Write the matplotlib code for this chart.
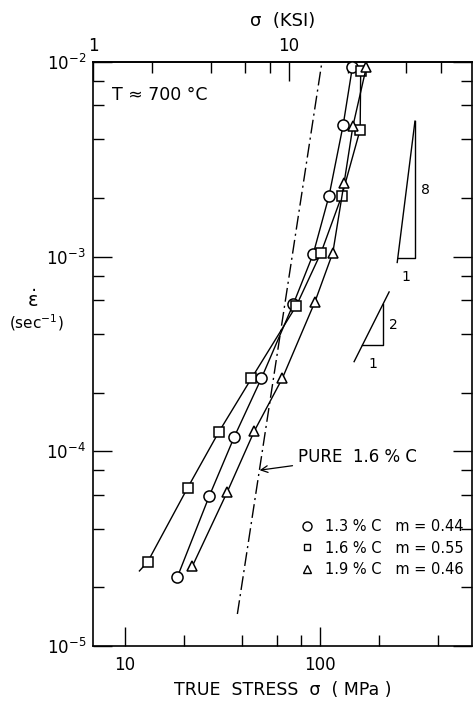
import matplotlib.pyplot as plt
from matplotlib.lines import Line2D
from matplotlib.ticker import FixedLocator, NullFormatter

plt.rcParams['font.family'] = ['DejaVu Sans']
plt.rcParams['mathtext.default'] = 'regular'

MPA_PER_KSI = 6.895

# strain rate (1/s) vs true stress (MPa) at T = 700 C
stress_13 = [18.6, 27.1, 36.4, 50.0, 72.8, 92.0, 111.0, 131.0, 146.0]
rate_13 = [2.26e-5, 5.9e-5, 1.19e-4, 2.37e-4, 5.7e-4, 1.03e-3, 2.06e-3, 4.75e-3, 9.4e-3]

stress_16 = [11.9, 13.1, 21.0, 30.2, 44.5, 75.5, 101.0, 129.0, 160.0, 161.0]
rate_16 = [2.43e-5, 2.7e-5, 6.5e-5, 1.25e-4, 2.37e-4, 5.6e-4, 1.05e-3, 2.06e-3, 4.5e-3, 9.0e-3]

stress_19 = [22.2, 33.5, 46.0, 64.0, 94.0, 116.0, 132.5, 147.0, 172.0]
rate_19 = [2.57e-5, 6.2e-5, 1.27e-4, 2.37e-4, 5.87e-4, 1.05e-3, 2.4e-3, 4.7e-3, 9.4e-3]

# pure 1.6%C line
pure_stress = [37.7, 102.0]
pure_rate = [1.46e-5, 1.0e-2]

labels = ['1.3 % C   m = 0.44', '1.6 % C   m = 0.55', '1.9 % C   m = 0.46']

fig = plt.figure(figsize=(4.74, 7.04), dpi=100)
ax = fig.add_axes([0.1962, 0.0824, 0.7996, 0.8295])
ax.set_xscale('log')
ax.set_yscale('log')
ax.set_xlim(6.89, 597)
ax.set_ylim(1e-5, 1e-2)

lw = 1.0
mk = dict(color='black', lw=lw, mfc='white', mec='black', mew=1.1, zorder=3)
ax.plot(stress_13, rate_13, marker='o', ms=8, **mk)
ax.plot(stress_16[:2], rate_16[:2], color='black', lw=lw)
ax.plot(stress_16[1:], rate_16[1:], marker='s', ms=6.5, **mk)
ax.plot(stress_19, rate_19, marker='^', ms=7.5, **mk)

ax.plot(pure_stress, pure_rate, color='black', lw=1.0,
        linestyle=(0, (10, 3, 1.5, 3)))
ax.annotate('PURE  1.6 % C', xy=(49, 8e-5), xytext=(0.541, 0.324),
            textcoords='axes fraction', fontsize=12, va='center', ha='left',
            arrowprops=dict(arrowstyle='->', lw=0.9, color='black',
                            shrinkA=2, shrinkB=0))

# slope triangles, m = 1/2 and 1/8
for slope, s0, s1, r0, ext in [(2, 164.0, 209.0, 3.5e-4, (149.0, 225.0)),
                               (8, 249.0, 305.0, 9.8e-4, (247.5, 305.0))]:
    r1 = r0 * (s1 / s0) ** slope
    ax.plot([ext[0], ext[1]],
            [r0 * (ext[0] / s0) ** slope, r0 * (ext[1] / s0) ** slope],
            color='black', lw=lw)
    ax.plot([s0, s1, s1], [r0, r0, r1], color='black', lw=lw)
    ax.text(s1 * 1.07, (r0 * r1) ** 0.5, str(slope), fontsize=10,
            ha='left', va='center')
    ax.text((s0 * s1) ** 0.5, r0 / 1.15, '1', fontsize=10,
            ha='center', va='top')

ax.text(0.05, 0.943, 'T ≈ 700 °C', transform=ax.transAxes, fontsize=12.5,
        va='center', ha='left')

handles = [
    Line2D([], [], ls='none', marker='o', ms=6.5, mfc='white', mec='black', mew=1.0),
    Line2D([], [], ls='none', marker='s', ms=5, mfc='white', mec='black', mew=1.0),
    Line2D([], [], ls='none', marker='^', ms=6, mfc='white', mec='black', mew=1.0),
]
ax.legend(handles, labels, loc='upper left', bbox_to_anchor=(0.546, 0.2175),
          frameon=False, fontsize=10.5, handlelength=1.0, handletextpad=0.7,
          labelspacing=0.45, borderpad=0, borderaxespad=0)

# ticks
ax.xaxis.set_major_locator(FixedLocator([10, 100]))
ax.set_xticklabels(['10', '100'])
ax.xaxis.set_minor_locator(FixedLocator([20, 40, 60, 80, 200, 400]))
ax.xaxis.set_minor_formatter(NullFormatter())
ax.yaxis.set_major_locator(FixedLocator([1e-5, 1e-4, 1e-3, 1e-2]))
ax.set_yticklabels(['$10^{-5}$', '$10^{-4}$', '$10^{-3}$', '$10^{-2}$'])
minor_y = [m * 10.0 ** e for e in (-5, -4, -3) for m in (2, 4, 6, 8)]
ax.yaxis.set_minor_locator(FixedLocator(minor_y))
ax.yaxis.set_minor_formatter(NullFormatter())
ax.tick_params(which='both', direction='in', right=True, top=False,
               width=1.0, labelsize=12)
ax.tick_params(which='major', length=14)
ax.tick_params(which='minor', length=8)
ax.tick_params(axis='x', pad=7)
ax.tick_params(axis='y', pad=5)
for sp in ax.spines.values():
    sp.set_linewidth(1.2)

sec = ax.secondary_xaxis('top', functions=(lambda x: x / MPA_PER_KSI,
                                           lambda x: x * MPA_PER_KSI))
sec.xaxis.set_major_locator(FixedLocator([1, 10]))
sec.set_xticklabels(['1', '10'])
sec.xaxis.set_minor_locator(FixedLocator([2, 4, 6, 8, 20, 40, 60]))
sec.xaxis.set_minor_formatter(NullFormatter())
sec.tick_params(which='both', direction='in', width=1.0, labelsize=12, pad=5)
sec.tick_params(which='major', length=14)
sec.tick_params(which='minor', length=8)
sec.spines['top'].set_linewidth(1.2)
sec.set_xlabel('σ  (KSI)', fontsize=13, labelpad=8)

ax.set_xlabel('TRUE  STRESS  σ  ( MPa )', fontsize=12.5, labelpad=5)
fig.text(0.068, 0.574, r'$\dot{\varepsilon}$', fontsize=14, ha='center', va='center')
fig.text(0.076, 0.541, '(sec$^{-1}$)', fontsize=11, ha='center', va='center')

fig.savefig('out.png', dpi=100)
